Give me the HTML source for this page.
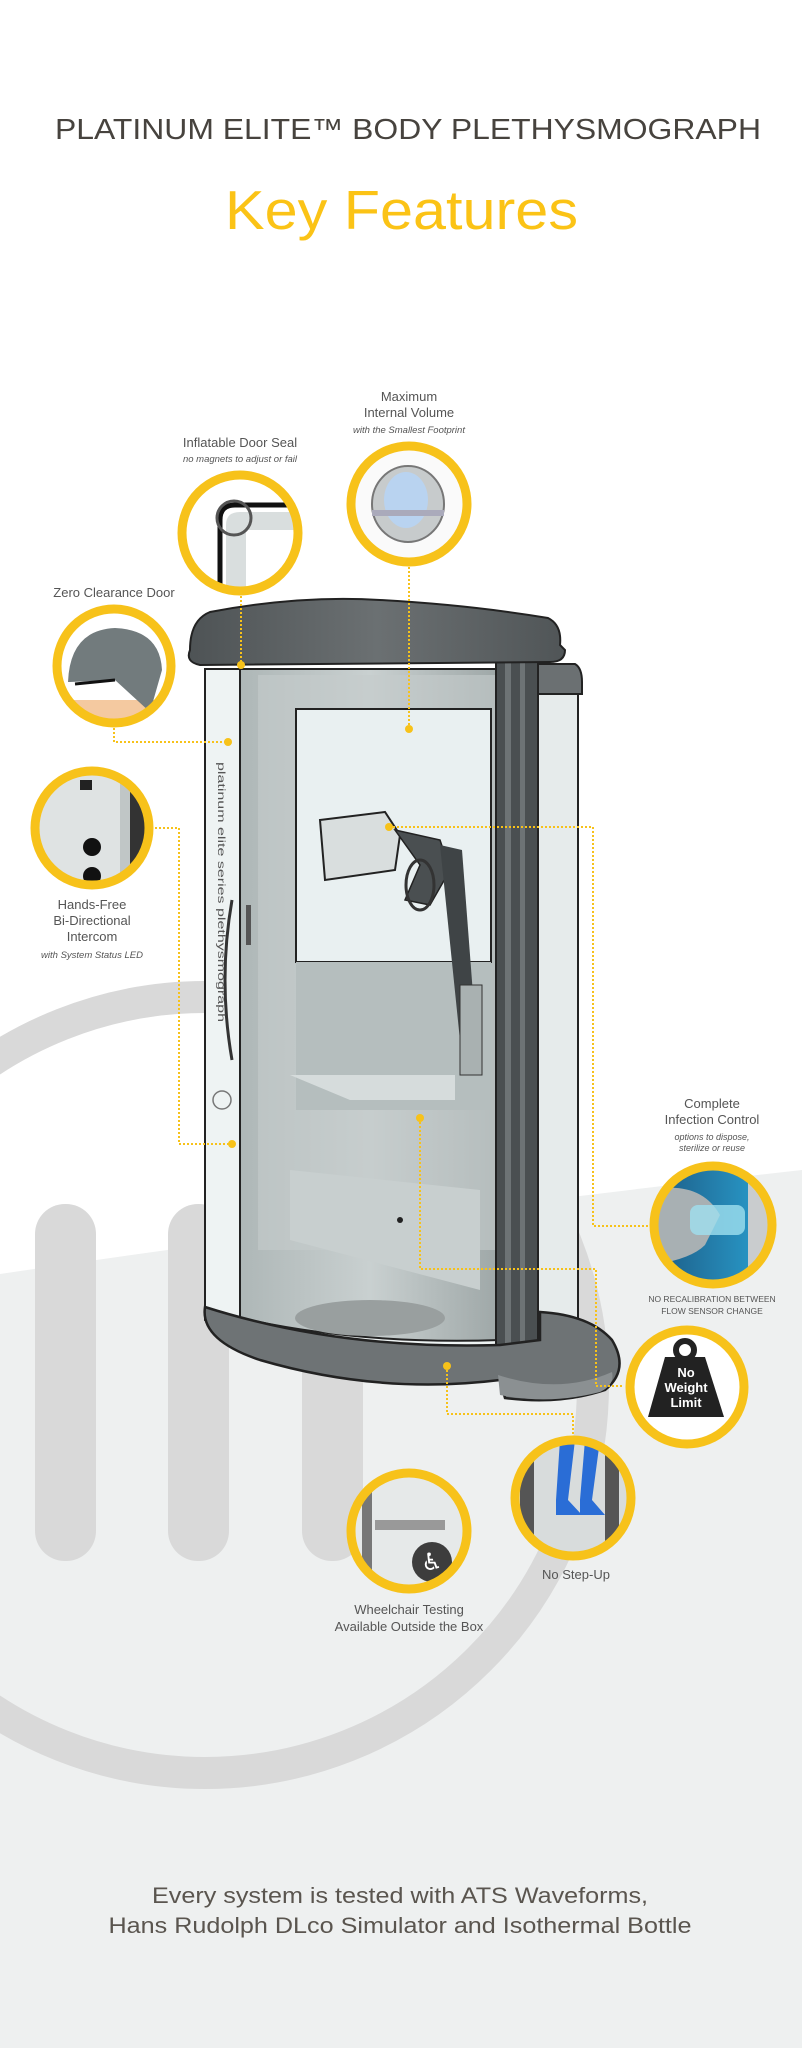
<!DOCTYPE html>
<html><head><meta charset="utf-8"><style>
html,body{margin:0;padding:0;background:#fff;}
svg{display:block;font-family:"Liberation Sans",sans-serif;}
</style></head><body>
<svg width="802" height="2048" viewBox="0 0 802 2048" xmlns="http://www.w3.org/2000/svg">
<defs>
<linearGradient id="pan" x1="0" x2="1"><stop offset="0" stop-color="#aeb7b7"/><stop offset="0.5" stop-color="#c9d0d0"/><stop offset="1" stop-color="#9ea7a7"/></linearGradient>
<linearGradient id="cap" x1="0" x2="1"><stop offset="0" stop-color="#4e5355"/><stop offset="0.5" stop-color="#6b7072"/><stop offset="1" stop-color="#505557"/></linearGradient>
<linearGradient id="blu" x1="0" x2="1"><stop offset="0" stop-color="#1d5c86"/><stop offset="1" stop-color="#2aa0d0"/></linearGradient>
<clipPath id="c1"><circle cx="240" cy="533" r="56"/></clipPath>
<clipPath id="c2"><circle cx="409" cy="504" r="56"/></clipPath>
<clipPath id="c3"><circle cx="114" cy="666" r="55"/></clipPath>
<clipPath id="c4"><circle cx="92" cy="828" r="55"/></clipPath>
<clipPath id="c5"><circle cx="713" cy="1225" r="57"/></clipPath>
<clipPath id="c7"><circle cx="573" cy="1498" r="56"/></clipPath>
<clipPath id="c8"><circle cx="409" cy="1531" r="56"/></clipPath>
</defs>
<!-- background grey region -->
<path d="M0 1274 Q400 1215 802 1170 L802 2048 L0 2048 Z" fill="#eef0f0"/>
<!-- ring -->
<circle cx="205" cy="1385" r="388" fill="none" stroke="#d9d9d9" stroke-width="32"/>
<!-- pills -->
<rect x="35" y="1204" width="61" height="357" rx="30" fill="#d9d9d9"/>
<rect x="168" y="1204" width="61" height="357" rx="30" fill="#d9d9d9"/>
<rect x="302" y="1204" width="61" height="357" rx="30" fill="#d9d9d9"/>

<!-- title -->
<text x="55" y="139" font-size="29" fill="#47433e" textLength="706" lengthAdjust="spacingAndGlyphs">PLATINUM ELITE™ BODY PLETHYSMOGRAPH</text>
<text x="225" y="229" font-size="55" fill="#fbc316" textLength="353" lengthAdjust="spacingAndGlyphs">Key Features</text>

<!-- booth -->
<path d="M520 690 L578 690 L578 1330 Q560 1345 520 1345 Z" fill="#e6ebeb" stroke="#222" stroke-width="2"/>
<path d="M512 664 L575 664 Q582 668 582 682 L582 694 L512 694 Z" fill="#6b7072" stroke="#222" stroke-width="2"/>
<path d="M205 669 L500 669 L500 1345 Q340 1350 205 1320 Z" fill="#eef3f3" stroke="#222" stroke-width="2"/>
<path d="M240 669 L500 669 L500 1340 Q360 1345 240 1318 Z" fill="url(#pan)" stroke="#222" stroke-width="2"/>
<path d="M258 675 L498 675 L498 1250 L258 1250 Z" fill="#c4cccc" opacity="0.6"/>
<rect x="296" y="709" width="195" height="253" fill="#e9f0f1" stroke="#222" stroke-width="2"/>
<path d="M296 962 L491 962 L491 1110 L296 1110 Z" fill="#b5bebe"/>
<path d="M290 1075 L455 1075 L455 1100 L350 1100 Z" fill="#d6dcdc"/>
<path d="M290 1170 L480 1190 L480 1290 L290 1240 Z" fill="#c8cfcf"/>
<circle cx="400" cy="1220" r="3" fill="#222"/>
<ellipse cx="370" cy="1318" rx="75" ry="18" fill="#999f9f"/>
<!-- mouthpiece arm -->
<path d="M320 820 L385 812 L400 835 L395 870 L325 880 Z" fill="#d9dede" stroke="#222" stroke-width="2"/>
<path d="M395 830 L440 840 L450 870 L430 905 L405 900 L420 865 Z" fill="#4a4f51" stroke="#222" stroke-width="1.5"/>
<ellipse cx="420" cy="885" rx="14" ry="25" fill="none" stroke="#333" stroke-width="3"/>
<path d="M440 845 L462 850 L478 1060 L462 1060 Z" fill="#3f4446"/>
<rect x="460" y="985" width="22" height="90" fill="#a9b1b1" stroke="#333" stroke-width="1"/>
<!-- door bars -->
<rect x="496" y="660" width="42" height="712" fill="#4a4f51" stroke="#222" stroke-width="2"/>
<rect x="505" y="660" width="6" height="712" fill="#6d7375"/>
<rect x="520" y="660" width="5" height="712" fill="#6d7375"/>
<!-- left handle -->
<path d="M232 900 Q218 980 232 1060" fill="none" stroke="#333" stroke-width="3"/>
<rect x="246" y="905" width="5" height="40" fill="#555"/>
<text transform="translate(218 762) rotate(90)" font-size="10" fill="#555" textLength="260" lengthAdjust="spacingAndGlyphs">platinum elite series   plethysmograph</text>
<circle cx="222" cy="1100" r="9" fill="none" stroke="#777" stroke-width="1.5"/>
<!-- base -->
<path d="M205 1307 Q200 1340 260 1360 Q380 1395 500 1380 L505 1398 Q560 1405 605 1390 Q630 1370 612 1340 Q590 1315 540 1312 L540 1340 L500 1345 Q340 1350 205 1307 Z" fill="#6e7375" stroke="#222" stroke-width="2.5"/>
<path d="M498 1375 Q560 1395 612 1372 Q615 1385 600 1392 Q550 1405 500 1395 Z" fill="#8b9092"/>
<!-- top cap -->
<path d="M190 650 Q190 620 210 612 Q300 595 380 600 Q470 605 548 618 Q562 625 560 645 L565 650 Q565 662 550 662 L200 665 Q185 662 190 650 Z" fill="url(#cap)" stroke="#222" stroke-width="2"/>

<!-- connectors -->
<g fill="none" stroke="#f7c21a" stroke-width="2" stroke-dasharray="2 2">
<path d="M241 596 L241 665"/>
<path d="M409 567 L409 729"/>
<path d="M114 728 L114 742 L228 742"/>
<path d="M155 828 L179 828 L179 1144 L232 1144"/>
<path d="M389 827 L593 827 L593 1226 L650 1226"/>
<path d="M420 1118 L420 1269 L596 1269 L596 1386 L623 1386"/>
<path d="M447 1366 L447 1414 L573 1414 L573 1440"/>
</g>
<g fill="#f7c21a">
<circle cx="241" cy="665" r="4"/><circle cx="409" cy="729" r="4"/><circle cx="228" cy="742" r="4"/>
<circle cx="232" cy="1144" r="4"/><circle cx="389" cy="827" r="4"/><circle cx="420" cy="1118" r="4"/><circle cx="447" cy="1366" r="4"/>
</g>

<!-- circle 1 door seal -->
<circle cx="240" cy="533" r="58" fill="#fff"/>
<g clip-path="url(#c1)"><path d="M220 600 L220 520 Q220 505 235 505 L300 505" fill="none" stroke="#111" stroke-width="5"/>
<path d="M226 600 L226 525 Q226 512 240 512 L300 512 L300 530 L246 530 L246 600 Z" fill="#d9dede"/>
<circle cx="234" cy="518" r="17" fill="none" stroke="#555" stroke-width="3"/></g>
<circle cx="240" cy="533" r="58" fill="none" stroke="#f7c21a" stroke-width="9"/>
<!-- circle 2 max volume -->
<circle cx="409" cy="504" r="58" fill="#fafafa"/>
<g clip-path="url(#c2)"><ellipse cx="408" cy="504" rx="36" ry="38" fill="#c7cbcc" stroke="#777" stroke-width="2"/>
<ellipse cx="406" cy="500" rx="22" ry="28" fill="#b9d3f0"/><rect x="372" y="510" width="72" height="6" fill="#aab"/></g>
<circle cx="409" cy="504" r="58" fill="none" stroke="#f7c21a" stroke-width="9"/>
<!-- circle 3 zero clearance -->
<circle cx="114" cy="666" r="57" fill="#fff"/>
<g clip-path="url(#c3)"><path d="M60 700 L175 700 L175 740 L60 740 Z" fill="#f4c9a0"/>
<path d="M68 682 Q70 630 115 628 Q160 630 162 670 L150 712 L115 680 L70 682 Z" fill="#727b7d"/><line x1="75" y1="684" x2="115" y2="680" stroke="#111" stroke-width="3"/></g>
<circle cx="114" cy="666" r="57" fill="none" stroke="#f7c21a" stroke-width="9"/>
<!-- circle 4 intercom -->
<circle cx="92" cy="828" r="57" fill="#dfe3e3"/>
<g clip-path="url(#c4)"><rect x="130" y="760" width="30" height="140" fill="#333"/><rect x="120" y="760" width="10" height="140" fill="#c0c6c6"/>
<rect x="80" y="780" width="12" height="10" fill="#222"/><circle cx="92" cy="847" r="9" fill="#111"/><circle cx="92" cy="876" r="9" fill="#111"/></g>
<circle cx="92" cy="828" r="57" fill="none" stroke="#f7c21a" stroke-width="9"/>
<!-- circle 5 infection -->
<circle cx="713" cy="1225" r="59" fill="url(#blu)"/>
<g clip-path="url(#c5)"><path d="M650 1190 Q700 1180 720 1215 L705 1245 Q690 1260 650 1265 Z" fill="#a8b0b3"/>
<rect x="690" y="1205" width="55" height="30" rx="8" fill="#9fe0ef" opacity="0.8"/><rect x="748" y="1170" width="30" height="110" fill="#c9ccce"/></g>
<circle cx="713" cy="1225" r="59" fill="none" stroke="#f7c21a" stroke-width="9"/>
<!-- circle 6 weight -->
<circle cx="687" cy="1387" r="57" fill="#fff" stroke="#f7c21a" stroke-width="9"/>
<circle cx="685" cy="1350" r="9" fill="none" stroke="#222" stroke-width="6"/>
<path d="M665 1357 L705 1357 L724 1417 L648 1417 Z" fill="#222"/>
<g font-weight="bold" fill="#fff" font-size="13" text-anchor="middle"><text x="686" y="1377">No</text><text x="686" y="1392">Weight</text><text x="686" y="1407">Limit</text></g>
<!-- circle 7 no step -->
<circle cx="573" cy="1498" r="58" fill="#d8dcdc"/>
<g clip-path="url(#c7)"><rect x="520" y="1440" width="14" height="120" fill="#555"/><rect x="605" y="1440" width="14" height="120" fill="#555"/>
<path d="M560 1440 L575 1440 L568 1500 L582 1515 L556 1515 L556 1500 Z" fill="#2a6dd6"/><path d="M585 1440 L600 1440 L592 1500 L605 1515 L580 1515 L580 1500 Z" fill="#2a6dd6"/></g>
<circle cx="573" cy="1498" r="58" fill="none" stroke="#f7c21a" stroke-width="9"/>
<!-- circle 8 wheelchair -->
<circle cx="409" cy="1531" r="58" fill="#e6e9e9"/>
<g clip-path="url(#c8)"><rect x="362" y="1470" width="10" height="130" fill="#777"/><rect x="375" y="1520" width="70" height="10" fill="#999"/>
<circle cx="432" cy="1562" r="20" fill="#3d3d3d"/><text x="432" y="1570" font-size="24" fill="#fff" text-anchor="middle" font-family="DejaVu Sans">♿</text></g>
<circle cx="409" cy="1531" r="58" fill="none" stroke="#f7c21a" stroke-width="9"/>

<!-- labels -->
<g fill="#555" text-anchor="middle" font-size="13">
<text x="409" y="401">Maximum</text><text x="409" y="417">Internal Volume</text>
<text x="409" y="433" font-size="9.5" font-style="italic">with the Smallest Footprint</text>
<text x="240" y="447">Inflatable Door Seal</text>
<text x="240" y="462" font-size="9.5" font-style="italic">no magnets to adjust or fail</text>
<text x="114" y="597">Zero Clearance Door</text>
<text x="92" y="909">Hands-Free</text><text x="92" y="925">Bi-Directional</text><text x="92" y="941">Intercom</text>
<text x="92" y="958" font-size="9.5" font-style="italic">with System Status LED</text>
<text x="712" y="1108">Complete</text><text x="712" y="1124">Infection Control</text>
<text x="712" y="1140" font-size="9" font-style="italic">options to dispose,</text><text x="712" y="1151" font-size="9" font-style="italic">sterilize or reuse</text>
<text x="712" y="1302" font-size="8.5">NO RECALIBRATION BETWEEN</text><text x="712" y="1314" font-size="8.5">FLOW SENSOR CHANGE</text>
<text x="576" y="1579">No Step-Up</text>
<text x="409" y="1614">Wheelchair Testing</text><text x="409" y="1631">Available Outside the Box</text>
</g>
<g fill="#5a554f" text-anchor="middle" font-size="22">
<text x="400" y="1903" textLength="496" lengthAdjust="spacingAndGlyphs">Every system is tested with ATS Waveforms,</text>
<text x="400" y="1933" textLength="583" lengthAdjust="spacingAndGlyphs">Hans Rudolph DLco Simulator and Isothermal Bottle</text>
</g>
</svg>
</body></html>
